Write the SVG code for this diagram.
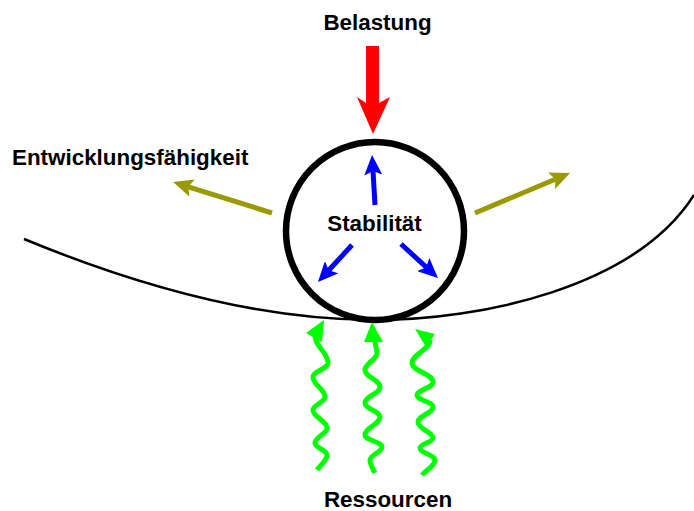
<svg xmlns="http://www.w3.org/2000/svg" width="694" height="511" viewBox="0 0 694 511">
<style>
.lbl{font-family:"Liberation Sans",Arial,sans-serif;font-weight:bold;font-size:22.4px;fill:#000}
.blue{stroke:#0000ff;stroke-width:5;fill:none}
.olive{stroke:#999900;stroke-width:5;fill:none}
.wave{stroke:#00ff00;stroke-width:5;fill:none;stroke-linejoin:round}
.whead{fill:#00ff00}
</style>
<defs>
<marker id="mb" markerUnits="userSpaceOnUse" viewBox="0 0 20 18" refX="4" refY="9" markerWidth="20" markerHeight="18" orient="auto">
<path d="M0,0 L20,9 L0,18 L4,9 Z" fill="#0000ff"/>
</marker>
<marker id="mo" markerUnits="userSpaceOnUse" viewBox="0 0 20 18" refX="4" refY="9" markerWidth="20" markerHeight="18" orient="auto">
<path d="M0,0 L20,9 L0,18 L4,9 Z" fill="#999900"/>
</marker>
</defs>
<rect width="694" height="511" fill="#fff"/>
<g id="ground">
<path d="M24,239 Q220,320 375,320 C480,320 635,288 694,195" fill="none" stroke="#000" stroke-width="2.5"/>
</g>
<g id="ball">
<circle cx="375" cy="231" r="89" fill="none" stroke="#000" stroke-width="6.5"/>
<text class="lbl" x="374.5" y="231" text-anchor="middle">Stabilität</text>
</g>
<g id="belastung">
<text class="lbl" x="377.5" y="30" text-anchor="middle">Belastung</text>
</g>
<g id="entwicklung">
<text class="lbl" x="12" y="165">Entwicklungsfähigkeit</text>
</g>
<g id="ressourcen">
<text class="lbl" x="388" y="507" text-anchor="middle">Ressourcen</text>
</g>
<g id="connectors">
<path d="M366,46 H379 V103 L390,97 L373,134 L357,97 L366,103 Z" fill="#ff0000"/>
<line class="blue" x1="375" y1="205" x2="373" y2="171" marker-end="url(#mb)"/>
<line class="blue" x1="352" y1="245" x2="328.8" y2="270.2" marker-end="url(#mb)"/>
<line class="blue" x1="401" y1="244" x2="426.2" y2="267.2" marker-end="url(#mb)"/>
<line class="olive" x1="272" y1="213" x2="188.3" y2="186.8" marker-end="url(#mo)"/>
<line class="olive" x1="475" y1="213" x2="555.3" y2="179.2" marker-end="url(#mo)"/>
<path class="wave" d="M315,336 C315,346.8 328,352.2 328,363 C328,368.6 313,371.4 313,377 C313,385 325,389 325,397 C325,402.2 313,404.8 313,410 C313,417.2 327,420.8 327,428 C327,434 315,437 315,443 C315,447.8 327,450.2 327,455 C327,461 320,465 317,470"/>
<polygon class="whead" points="324,320 306,333 322,342"/>
<path class="wave" d="M375,340 C375,346 377,349 377,353 C377,360 365,363 365,370 C365,377 380,380 380,387 C380,394 365,396 365,403 C365,409 380,411 380,417 C380,424 365,428 365,435 C365,440 382,442 382,447 C382,452 370,455 370,460 C370,465 373,469 375,473"/>
<polygon class="whead" points="372,322 364,342 383,342"/>
<path class="wave" d="M430,340 C430,350 412,354 412,363 C412,371 433,374 433,382 C433,388 417,390 417,395 C417,400 433,402 433,407 C433,413 418,416 418,422 C418,429 433,432 433,438 C433,442 420,444 420,448 C420,453 435,455 435,460 C435,466 426,470 422,475"/>
<polygon class="whead" points="415,329 435,334 426,347"/>
</g>
</svg>
